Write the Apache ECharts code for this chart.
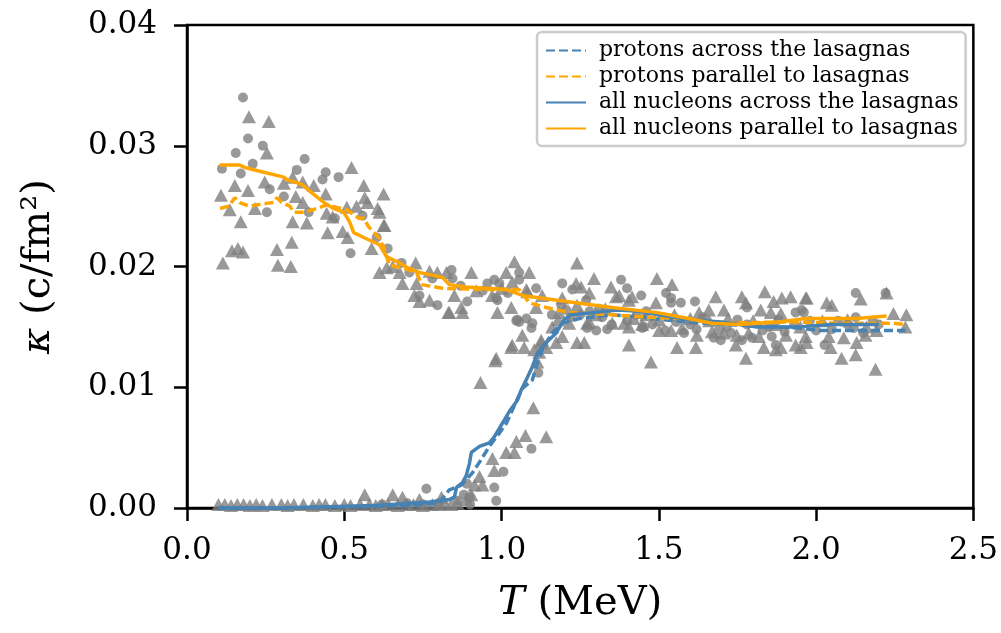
<!DOCTYPE html>
<html>
<head>
<meta charset="utf-8">
<script src="https://cdn.jsdelivr.net/npm/echarts@6/dist/echarts.min.js"></script>
<style>html,body{margin:0;padding:0;background:#fff}#c{width:1001px;height:633px}</style>
</head>
<body>
<div id="c"></div>
<script>
// ---- data (T in MeV, kappa in c/fm^2) ----
const xTicks = [0.0, 0.5, 1.0, 1.5, 2.0, 2.5];
const yTicks = [0.00, 0.01, 0.02, 0.03, 0.04];

const seriesNames = [
  'protons across the lasagnas',
  'protons parallel to lasagnas',
  'all nucleons across the lasagnas',
  'all nucleons parallel to lasagnas'
];

const protonsAcross = [
  [0.10,0.0000],[0.30,0.0000],[0.50,0.0001],[0.70,0.0002],[0.80,0.0004],[0.834,0.0015],[0.872,0.0019],
  [0.907,0.0029],[0.930,0.0038],[0.961,0.0051],[0.993,0.0062],[1.015,0.0070],[1.034,0.0081],
  [1.066,0.0099],[1.098,0.0106],[1.110,0.0117],[1.129,0.0131],[1.161,0.0145],[1.193,0.0153],
  [1.25,0.0157],[1.35,0.0160],[1.45,0.0158],[1.507,0.0156],[1.60,0.0154],[1.70,0.0152],
  [1.80,0.0151],[1.945,0.0149],[2.008,0.0147],[2.135,0.0147],[2.221,0.0147],[2.284,0.0147]
];
const protonsParallel = [
  [0.105,0.0248],[0.133,0.0250],[0.152,0.0257],[0.168,0.0253],[0.197,0.0250],[0.244,0.0252],
  [0.276,0.0253],[0.286,0.0257],[0.301,0.0253],[0.327,0.0250],[0.339,0.0245],[0.374,0.0245],
  [0.412,0.0248],[0.444,0.0251],[0.476,0.0249],[0.508,0.0247],[0.546,0.0240],[0.562,0.0240],
  [0.577,0.0233],[0.609,0.0224],[0.625,0.0216],[0.644,0.0201],[0.685,0.0199],[0.730,0.0195],
  [0.746,0.0185],[0.812,0.0182],[0.930,0.0181],[1.056,0.0181],[1.088,0.0170],[1.142,0.0166],
  [1.215,0.0162],[1.352,0.0160],[1.459,0.0158],[1.574,0.0157],[1.681,0.0153],[1.881,0.0154],
  [1.945,0.0154],[2.072,0.0153],[2.199,0.0153],[2.246,0.0153],[2.284,0.0152]
];
const nucleonsAcross = [
  [0.10,0.0000],[0.30,0.0000],[0.45,0.0001],[0.60,0.0002],[0.771,0.0005],[0.834,0.0007],
  [0.850,0.0009],[0.857,0.0017],[0.876,0.0021],[0.888,0.0027],[0.898,0.0037],[0.904,0.0046],
  [0.930,0.0051],[0.961,0.0054],[0.977,0.0059],[0.993,0.0066],[1.025,0.0080],[1.050,0.0089],
  [1.063,0.0098],[1.082,0.0108],[1.098,0.0117],[1.114,0.0128],[1.142,0.0137],[1.174,0.0145],
  [1.199,0.0156],[1.221,0.0160],[1.30,0.0162],[1.37,0.0164],[1.437,0.0163],[1.50,0.0160],
  [1.596,0.0156],[1.700,0.0154],[1.808,0.0150],[1.913,0.0150],[1.945,0.0150],[2.049,0.0152],
  [2.199,0.0152]
];
const nucleonsParallel = [
  [0.105,0.0284],[0.168,0.0284],[0.184,0.0282],[0.244,0.0278],[0.308,0.0274],[0.317,0.0272],
  [0.365,0.0268],[0.397,0.0261],[0.435,0.0253],[0.466,0.0248],[0.498,0.0245],[0.517,0.0237],
  [0.530,0.0228],[0.562,0.0224],[0.612,0.0218],[0.635,0.0208],[0.676,0.0203],[0.701,0.0199],
  [0.739,0.0195],[0.812,0.0191],[0.834,0.0185],[0.888,0.0183],[1.015,0.0181],[1.066,0.0176],
  [1.206,0.0171],[1.352,0.0166],[1.491,0.0162],[1.574,0.0158],[1.669,0.0153],[1.754,0.0152],
  [1.881,0.0154],[1.967,0.0157],[2.129,0.0157],[2.224,0.0159]
];

const circlePoints = [
  [0.178,0.0340],[0.194,0.0306],[0.155,0.0294],[0.241,0.0300],[0.209,0.0285],[0.111,0.0281],
  [0.171,0.0277],[0.374,0.0289],[0.349,0.0280],[0.441,0.0278],[0.431,0.0272],[0.482,0.0274],
  [0.263,0.0264],[0.308,0.0258],[0.254,0.0245],[0.387,0.0245],[0.470,0.0240],[0.558,0.0242],
  [0.520,0.0211],[0.603,0.0224],[0.638,0.0215],[0.682,0.0203],[0.707,0.0195],[0.841,0.0197],
  [0.844,0.0190],[0.977,0.0189],[0.955,0.0186],[0.993,0.0186],[1.056,0.0195],[1.056,0.0189],
  [1.110,0.0182],[1.193,0.0186],[1.225,0.0181],[1.380,0.0189],[1.399,0.0182],[1.444,0.0176],
  [1.523,0.0178],[1.539,0.0174],[0.739,0.0176],[0.796,0.0168],[0.891,0.0171],[0.983,0.0174],
  [1.056,0.0154],[1.079,0.0157],[1.098,0.0153],[1.269,0.0172],[1.190,0.0168],[0.987,0.0172],
  [1.050,0.0156],[1.095,0.0149],[1.272,0.0149],[1.301,0.0147],[1.336,0.0148],[1.447,0.0149],
  [1.206,0.0164],[1.539,0.0170],[1.570,0.0170],[1.615,0.0171],[1.780,0.0166],[1.935,0.0162],
  [1.954,0.0164],[1.675,0.0141],[1.697,0.0139],[1.764,0.0139],[1.796,0.0141],[1.859,0.0142],
  [1.872,0.0135],[1.453,0.0150],[1.555,0.0154],[1.716,0.0150],[2.126,0.0178],[2.221,0.0178],
  [1.961,0.0162],[2.126,0.0158],[2.027,0.0135],[2.199,0.0152],[1.117,0.0112],[1.095,0.0049],
  [1.006,0.0030],[0.977,0.0017],[0.983,0.0006],[0.761,0.0016],[0.898,0.0009],[1.047,0.0155],
  [1.25,0.0160],[1.32,0.0158],[1.40,0.0155],[1.48,0.0152],[1.62,0.0148],[1.73,0.0145],
  [1.85,0.0150],[1.90,0.0146],[2.05,0.0148],[2.10,0.0152],[2.15,0.0145],[1.98,0.0155],
  [1.78,0.0152],[1.58,0.0145],[1.35,0.0152],[0.80,0.0004],[0.86,0.0006],[0.88,0.0011],
  [0.90,0.0003],[0.89,0.0020],[0.62,0.0003],[0.70,0.0004],[0.75,0.0003],
  [1.28,0.0163],[1.31,0.0165],[1.43,0.0160],[1.46,0.0163],[1.52,0.0147],[1.60,0.0152],
  [1.64,0.0158],[1.69,0.0147],[1.75,0.0156],[1.83,0.0147],[1.88,0.0156],[1.93,0.0152],
  [2.00,0.0147],[2.07,0.0155],[2.12,0.0149],[2.18,0.0155],[1.16,0.0160],[1.22,0.0158],
  [0.94,0.0180],[1.02,0.0178],[0.87,0.0184],[0.78,0.0190]
];
const trianglePoints = [
  [0.197,0.0324],[0.260,0.0320],[0.254,0.0294],[0.152,0.0267],[0.108,0.0259],[0.194,0.0263],
  [0.247,0.0270],[0.308,0.0269],[0.336,0.0274],[0.368,0.0270],[0.403,0.0267],[0.441,0.0260],
  [0.523,0.0282],[0.562,0.0267],[0.625,0.0260],[0.346,0.0258],[0.368,0.0253],[0.216,0.0248],
  [0.136,0.0247],[0.171,0.0237],[0.336,0.0237],[0.381,0.0236],[0.444,0.0244],[0.463,0.0241],
  [0.508,0.0249],[0.539,0.0250],[0.565,0.0257],[0.574,0.0253],[0.606,0.0248],[0.628,0.0234],
  [0.447,0.0228],[0.495,0.0229],[0.511,0.0224],[0.143,0.0213],[0.162,0.0215],[0.178,0.0212],
  [0.286,0.0214],[0.333,0.0220],[0.114,0.0203],[0.289,0.0201],[0.330,0.0200],[0.587,0.0215],
  [0.612,0.0195],[0.635,0.0199],[0.612,0.0245],[0.625,0.0234],[1.041,0.0204],[1.240,0.0203],
  [1.294,0.0190],[1.494,0.0190],[1.542,0.0185],[1.348,0.0183],[0.727,0.0203],[0.904,0.0195],
  [1.015,0.0195],[1.088,0.0195],[0.654,0.0200],[0.676,0.0195],[0.771,0.0196],[0.796,0.0195],
  [0.685,0.0186],[0.730,0.0186],[0.723,0.0176],[0.739,0.0171],[0.771,0.0172],[0.834,0.0162],
  [0.872,0.0166],[0.876,0.0162],[0.987,0.0162],[1.034,0.0187],[1.079,0.0181],[1.237,0.0186],
  [1.253,0.0183],[1.374,0.0176],[1.415,0.0175],[1.491,0.0170],[1.501,0.0156],[1.161,0.0150],
  [1.352,0.0153],[1.390,0.0153],[1.279,0.0154],[1.447,0.0152],[1.110,0.0166],[0.825,0.0195],
  [0.850,0.0176],[0.831,0.0162],[1.031,0.0166],[1.082,0.0179],[1.129,0.0176],[1.193,0.0174],
  [1.279,0.0178],[1.364,0.0175],[1.405,0.0172],[1.183,0.0162],[1.240,0.0168],[1.193,0.0142],
  [1.240,0.0137],[1.263,0.0137],[1.066,0.0143],[1.126,0.0139],[1.031,0.0133],[1.072,0.0133],
  [1.120,0.0129],[1.405,0.0135],[1.405,0.0150],[1.272,0.0153],[1.215,0.0153],[0.983,0.0124],
  [1.681,0.0175],[1.837,0.0179],[1.764,0.0175],[1.865,0.0171],[1.891,0.0174],[1.919,0.0175],
  [1.967,0.0174],[1.628,0.0162],[1.659,0.0164],[1.707,0.0164],[1.824,0.0164],[1.856,0.0162],
  [1.888,0.0161],[1.777,0.0170],[1.501,0.0147],[1.539,0.0147],[1.574,0.0149],[1.621,0.0143],
  [1.669,0.0146],[1.707,0.0145],[1.748,0.0143],[1.786,0.0145],[1.818,0.0142],[1.904,0.0143],
  [1.967,0.0142],[1.558,0.0133],[1.618,0.0133],[1.745,0.0135],[1.834,0.0133],[1.872,0.0131],
  [1.888,0.0133],[1.935,0.0135],[1.475,0.0121],[1.777,0.0124],[1.970,0.0174],[2.034,0.0170],
  [2.050,0.0168],[2.142,0.0173],[2.246,0.0161],[2.287,0.0160],[2.284,0.0150],[2.040,0.0142],
  [2.088,0.0141],[2.129,0.0137],[2.157,0.0143],[2.192,0.0147],[1.970,0.0137],[2.046,0.0133],
  [2.081,0.0124],[2.126,0.0127],[2.189,0.0115],[1.951,0.0133],[2.224,0.0178],[0.980,0.0122],
  [0.933,0.0104],[1.101,0.0083],[1.076,0.0060],[1.142,0.0059],[1.047,0.0055],[1.015,0.0046],
  [1.041,0.0046],[0.971,0.0041],[0.977,0.0031],[0.930,0.0026],[0.914,0.0019],[0.939,0.0019],
  [0.904,0.0011],[0.888,0.0007],[0.654,0.0011],[0.685,0.0009],[0.739,0.0007],[1.034,0.0135],
  [1.104,0.0131],[1.142,0.0133],[1.126,0.0137],[1.174,0.0137],[1.114,0.0121],[0.565,0.0011],
  [0.809,0.0009],
  [1.30,0.0160],[1.33,0.0165],[1.42,0.0157],[1.46,0.0160],[1.55,0.0160],[1.60,0.0157],
  [1.66,0.0155],[1.72,0.0157],[1.80,0.0155],[1.87,0.0152],[1.95,0.0150],[2.02,0.0155],
  [2.10,0.0156],[2.16,0.0150],[1.18,0.0156],[0.92,0.0180],[0.97,0.0176],[1.00,0.0182],
  [0.10,0.0003],[0.12,0.0003],[0.14,0.0002],[0.16,0.0003],[0.18,0.0003],[0.20,0.0002],
  [0.22,0.0003],[0.24,0.0002],[0.27,0.0003],[0.30,0.0003],[0.32,0.0002],[0.34,0.0003],
  [0.37,0.0003],[0.40,0.0002],[0.42,0.0003],[0.44,0.0003],[0.47,0.0002],[0.50,0.0003],
  [0.52,0.0002],[0.55,0.0003],[0.58,0.0003],[0.60,0.0002],[0.62,0.0003],[0.64,0.0003],
  [0.67,0.0002],[0.70,0.0003],[0.72,0.0003],[0.75,0.0002],[0.78,0.0003],[0.80,0.0003],
  [0.82,0.0004],[0.84,0.0003],[0.86,0.0004]
];

const BLUE = '#4682b4', ORANGE = '#ffa500', GREY = '#808080';
const FONT = 'DejaVu Serif';
const DASH = [9, 4];

const chart = echarts.init(document.getElementById('c'), null, {renderer: 'canvas'});
chart.setOption({
  animation: false,
  backgroundColor: '#fff',
  grid: {left: 187, right: 26, top: 25, bottom: 125, show: true, borderColor: '#000', borderWidth: 2.5, backgroundColor: 'transparent'},
  xAxis: {
    type: 'value', min: 0, max: 2.5, interval: 0.5,
    name: '{i|T} (MeV)', nameLocation: 'middle', nameGap: 76,
    nameTextStyle: {fontFamily: FONT, fontSize: 40, color: '#000', rich: {i: {fontFamily: FONT, fontStyle: 'italic', fontSize: 40}}},
    axisLine: {show: true, onZero: false, lineStyle: {color: '#000', width: 2.5}},
    axisTick: {show: true, inside: false, length: 13, lineStyle: {color: '#000', width: 2.5}},
    axisLabel: {fontFamily: FONT, fontSize: 31, color: '#000', margin: 27, formatter: v => v.toFixed(1)},
    splitLine: {show: false}
  },
  yAxis: {
    type: 'value', min: 0, max: 0.04, interval: 0.01,
    name: '{i|κ} (c/fm²)', nameLocation: 'middle', nameGap: 128, nameRotate: 90,
    nameTextStyle: {fontFamily: FONT, fontSize: 40, color: '#000', rich: {i: {fontFamily: FONT, fontStyle: 'italic', fontSize: 40}}},
    axisLine: {show: true, onZero: false, lineStyle: {color: '#000', width: 2.5}},
    axisTick: {show: true, inside: false, length: 13, lineStyle: {color: '#000', width: 2.5}},
    axisLabel: {fontFamily: FONT, fontSize: 31, color: '#000', margin: 30, formatter: v => v.toFixed(2)},
    splitLine: {show: false}
  },
  legend: {
    data: seriesNames,
    orient: 'vertical', left: 537, top: 32,
    backgroundColor: '#fff', borderColor: '#cccccc', borderWidth: 2.5, borderRadius: 5,
    padding: [7, 7, 6, 8], itemGap: 3, itemWidth: 40, itemHeight: 23,
    itemStyle: {opacity: 0},
    textStyle: {fontFamily: FONT, fontSize: 22, lineHeight: 23, color: '#000', padding: [0, 0, 0, 8]}
  },
  series: [
    {type: 'scatter', name: 'circles', data: circlePoints, symbol: 'circle', symbolSize: 10,
     itemStyle: {color: GREY}, z: 2, clip: false},
    {type: 'scatter', name: 'triangles', data: trianglePoints, symbol: 'triangle', symbolSize: [14, 13],
     itemStyle: {color: GREY}, z: 2, clip: false},
    {type: 'line', name: seriesNames[0], data: protonsAcross, symbol: 'none', z: 3,
     lineStyle: {color: BLUE, width: 3.5, type: DASH}, itemStyle: {color: BLUE}},
    {type: 'line', name: seriesNames[1], data: protonsParallel, symbol: 'none', z: 3,
     lineStyle: {color: ORANGE, width: 3.5, type: DASH}, itemStyle: {color: ORANGE}},
    {type: 'line', name: seriesNames[2], data: nucleonsAcross, symbol: 'none', z: 3,
     lineStyle: {color: BLUE, width: 3.5}, itemStyle: {color: BLUE}},
    {type: 'line', name: seriesNames[3], data: nucleonsParallel, symbol: 'none', z: 3,
     lineStyle: {color: ORANGE, width: 3.5}, itemStyle: {color: ORANGE}}
  ]
});
</script>
</body>
</html>
